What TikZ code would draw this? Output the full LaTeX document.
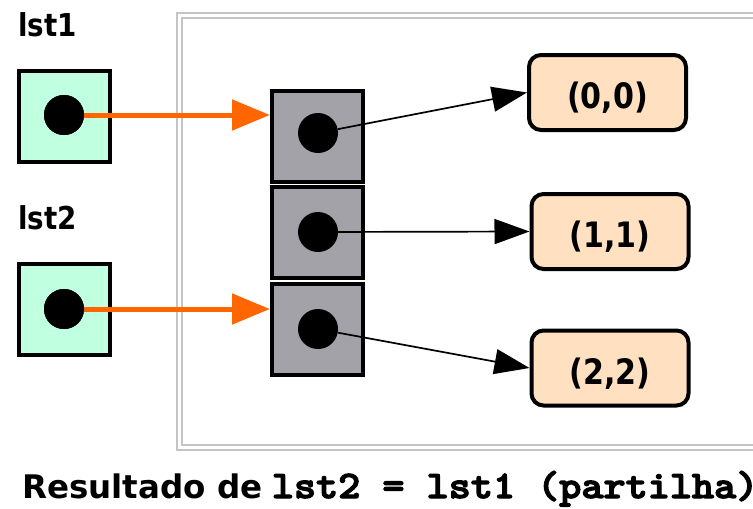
\documentclass[tikz,border=0pt]{standalone}
\usepackage{fontspec}
\usepackage{graphicx}
\setmainfont{DejaVu Sans}
\newfontfamily\capmono[FakeBold=3]{lmmonolt10-bold.otf}
\usetikzlibrary{arrows.meta}
\definecolor{mint}{HTML}{C0FFE0}
\definecolor{cellgray}{HTML}{A3A2A8}
\definecolor{peach}{HTML}{FFE0C0}
\definecolor{framegray}{HTML}{C4C4C4}
\definecolor{ptrorange}{HTML}{FF6600}
\newcommand{\valfont}{\fontsize{35}{38}\selectfont\bfseries}
\tikzset{
  varbox/.style={draw=black, line width=4pt, fill=mint, minimum width=91pt, minimum height=91pt, inner sep=0pt},
  cellbox/.style={draw=black, line width=4pt, fill=cellgray, minimum width=91pt, minimum height=91pt, inner sep=0pt},
  valbox/.style={draw=black, line width=4pt, fill=peach, rounded corners=12pt, minimum width=157pt, minimum height=75pt, inner sep=0pt, text height=36.6pt, text depth=4.6pt},
  dot/.style={circle, fill=black, minimum size=40pt, inner sep=0pt},
  lbl/.style={anchor=base west, inner sep=0pt, font=\fontsize{31.5}{34}\selectfont\bfseries},
  ptr/.style={draw=ptrorange, line width=5pt, -{Triangle[length=38pt,width=30pt]}},
  ref/.style={draw=black, line width=1.7pt, -{Triangle[length=35pt,width=25pt]}},
  frameline/.style={draw=framegray, line width=2pt}
}
\begin{document}
\begin{tikzpicture}[x=1pt,y=-1pt]
\useasboundingbox (0,0) rectangle (753,509);
\clip (0,0) rectangle (753,509);
% frame
\draw[frameline] (800,13) -- (177,13) -- (177,450) -- (800,450);
\draw[frameline] (800,18) -- (182,18) -- (182,445) -- (800,445);
% labels
\node[lbl] (l1) at (18,36) {\scalebox{0.88}[1]{lst1}};
\node[lbl] (l2) at (18,229) {\scalebox{0.88}[1]{lst2}};
% variables
\node[varbox] (v1) at (64.5,116) {};
\node[varbox] (v2) at (64.5,309) {};
\node[dot] (d1) at (64,115) {};
\node[dot] (d2) at (64,309) {};
% cells
\node[cellbox] (c1) at (317.5,136) {};
\node[cellbox] (c2) at (317.5,232.5) {};
\node[cellbox] (c3) at (317.5,329) {};
\node[dot] (e1) at (318,133) {};
\node[dot] (e2) at (318,232) {};
\node[dot] (e3) at (318,329) {};
% values
\node[valbox] (t0) at (607.5,92.5) {\valfont\scalebox{0.86}[1]{(0,0)}};
\node[valbox] (t1) at (610,231.5) {\valfont\scalebox{0.86}[1]{(1,1)}};
\node[valbox] (t2) at (610,368) {\valfont\scalebox{0.86}[1]{(2,2)}};
% pointers
\coordinate (p1) at (270,115);
\coordinate (p2) at (270,309);
\draw[ptr] (d1.center) -- (p1);
\draw[ptr] (d2.center) -- (p2);
\node[dot] at (d1) {};
\node[dot] at (d2) {};
\draw[ref] (e1) -- (t0.west);
\draw[ref] (e2) -- (t1.west);
\draw[ref] (e3) -- (t2.west);
% caption
\node[anchor=base west, inner sep=0pt] (cap) at (22,498) {\fontsize{32.5}{36}\selectfont\bfseries Resultado de \hspace{-2pt}{\fontsize{39}{42}\selectfont\capmono\scalebox{1.08}[1]{lst2 = lst1 (partilha)}}};
\end{tikzpicture}
\end{document}
